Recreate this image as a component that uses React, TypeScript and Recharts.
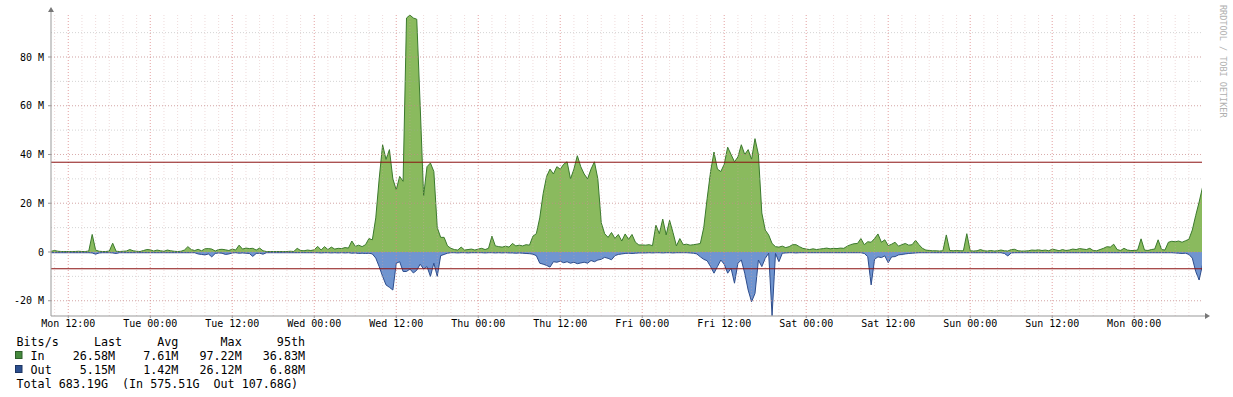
import React from "react";
import { ComposedChart, Area, XAxis, YAxis, ReferenceLine } from "recharts";

// traffic in Mbit/s, one value every 30 minutes
// hours are counted from Mon 00:00 of the first week
const blockStarts = [9.5, 24, 48, 72, 96, 120, 144, 168];

const monIn1 = [0.3, 0.6, 0.3, 0.2, 0.2, 0.2, 0.2, 0.2, 0.3, 0.2, 0.2, 0.4, 7.2, 0.8, 0.3, 0.2, 0.2, 0.4, 3.6, 0.3, 0.2, 0.3, 0.4, 1.0, 0.5, 0.3, 0.2, 0.6, 1.0];
const tueIn = [
  0.9, 0.4, 0.8, 0.5, 0.3, 0.8, 0.5, 0.3, 0.2, 0.3, 0.8, 2.2, 1.0, 0.6, 1.1, 0.5,
  1.3, 1.4, 1.2, 0.4, 1.0, 1.1, 0.9, 0.6, 1.2, 0.8, 2.8, 1.2, 1.6, 1.4, 1.5, 0.8,
  1.6, 0.5, 0.2, 0.2, 0.2, 0.2, 0.2, 0.2, 0.2, 0.3, 0.2, 1.5, 0.6, 0.5, 0.8, 0.6,
];
const wedIn = [
  0.9, 2.3, 0.8, 2.2, 1.0, 2.0, 1.2, 1.5, 1.4, 1.8, 1.6, 4.5, 2.3, 2.8, 2.2, 3.0,
  5.5, 5.0, 14, 30, 44, 38, 42, 30, 25.5, 31, 29, 96, 97.2, 96, 95.5, 60,
  23, 35, 36.5, 33, 10, 6, 6, 2.5, 1.5, 1.0, 0.8, 2.0, 0.8, 1.0, 1.2, 0.8,
];
const thuIn = [
  1.2, 1.5, 1.0, 1.5, 6.5, 2.5, 2.2, 2.0, 2.4, 2.0, 3.5, 2.5, 2.8, 2.5, 3.0, 2.8,
  6.5, 7.5, 14, 24, 31, 34, 32, 35, 34, 36, 37, 30, 34, 39.5, 35, 32,
  30, 34, 37, 30, 12, 7.5, 6, 8, 5.6, 7.2, 4.5, 7.4, 5.2, 7.2, 4, 2.9,
];
const friIn = [
  2.9, 2.8, 3.0, 2.6, 11, 7.5, 13.5, 7, 13, 8, 2.5, 5.5, 3, 3.2, 2.8, 3.0,
  3.2, 3.5, 10, 22, 33, 41, 34, 33, 36, 43, 40, 37, 39, 44, 40, 42,
  38, 46.5, 40, 16, 9, 7, 3.5, 2.2, 2, 2.4, 1.8, 2.2, 3, 3, 2.2, 1.5,
];
const satIn = [
  1.2, 1.0, 1.3, 1.0, 1.2, 1.4, 1.6, 1.3, 1.5, 1.4, 1.6, 1.5, 2.4, 3.0, 3.4, 3.5,
  5.5, 3.0, 4.2, 4.0, 5.5, 7.4, 4.0, 5.0, 2.6, 3.2, 4.0, 2.4, 3.0, 3.5, 2.8, 3.0,
  4.8, 3.0, 1.5, 0.8, 0.6, 0.5, 0.5, 0.4, 0.5, 7.0, 0.6, 0.5, 0.6, 0.5, 0.5, 7.5,
];
const sunIn = [
  0.5, 0.4, 0.5, 1.0, 0.5, 0.4, 0.6, 0.4, 0.5, 0.8, 0.5, 0.4, 1.0, 1.1, 0.5, 0.4,
  0.4, 0.5, 0.8, 0.7, 0.9, 0.6, 0.8, 0.5, 1.2, 0.9, 0.5, 1.0, 0.6, 0.8, 1.2, 1.0,
  1.4, 1.2, 1.0, 1.5, 0.6, 0.5, 1.0, 1.5, 2.2, 2.0, 3.2, 1.0, 0.6, 1.5, 0.8, 0.6,
];
const monIn2 = [0.6, 0.8, 5.4, 0.8, 0.6, 1.0, 1.2, 5.0, 1.0, 0.8, 4.0, 4.4, 4.2, 4.5, 4.0, 4.6, 5.2, 9, 15, 20.5, 26.6];

const monOut1 = [0.3, 0.3, 0.3, 0.3, 0.3, 0.3, 0.3, 0.3, 0.3, 0.3, 0.3, 0.3, 0.4, 0.9, 0.4, 0.3, 0.3, 0.3, 0.4, 0.6, 0.3, 0.3, 0.3, 0.3, 0.3, 0.3, 0.3, 0.3, 0.3];
const tueOut = [
  0.3, 0.3, 0.3, 0.3, 0.3, 0.3, 0.3, 0.3, 0.3, 0.3, 0.3, 0.3, 0.3, 0.3, 0.8, 1.0,
  1.2, 0.8, 2.0, 0.6, 0.4, 0.5, 1.0, 0.8, 0.4, 0.3, 0.5, 0.4, 0.5, 0.6, 1.8, 0.6,
  0.5, 0.9, 0.3, 0.3, 0.3, 0.3, 0.3, 0.3, 0.3, 0.3, 0.3, 0.3, 0.3, 0.3, 0.3, 0.3,
];
const wedOut = [
  0.3, 0.3, 0.4, 0.3, 0.3, 0.4, 0.3, 0.4, 0.3, 0.4, 0.3, 0.5, 0.4, 0.6, 0.5, 0.6,
  0.5, 0.8, 2.5, 6, 10, 13.5, 14.5, 15.6, 4.6, 4, 8, 8, 7, 8.6, 7.5, 5,
  7, 6, 10, 4.6, 10, 1.5, 1.0, 0.5, 0.3, 0.3, 0.4, 0.3, 0.3, 0.4, 0.3, 0.3,
];
const thuOut = [
  0.3, 0.3, 0.4, 0.3, 0.3, 0.4, 0.3, 0.4, 0.3, 0.4, 0.4, 0.5, 0.4, 0.5, 0.6, 0.7,
  0.9, 1.5, 4.6, 5, 5.5, 6.2, 4, 4.2, 3.8, 4.4, 4.0, 4.6, 4.2, 4.8, 4.5, 4.2,
  4.6, 3.5, 4.0, 3.3, 3.0, 2.2, 2.6, 3.2, 1.5, 1.0, 0.8, 0.6, 0.5, 0.6, 0.5, 0.4,
];
const friOut = [
  0.4, 0.4, 0.3, 0.4, 0.3, 0.3, 0.4, 0.3, 0.3, 0.4, 0.3, 0.3, 0.3, 0.3, 0.4, 0.5,
  0.8, 2.0, 3.0, 3.6, 6, 8.7, 6, 3.3, 5, 8.7, 6.7, 12.8, 4.6, 3.3, 8.7, 15.6,
  20.4, 17, 3.3, 6, 2.6, 0.5, 26.1, 0.6, 4, 0.5, 0.4, 0.3, 0.3, 0.4, 0.3, 0.3,
];
const satOut = [
  0.3, 0.3, 0.3, 0.3, 0.3, 0.3, 0.3, 0.3, 0.3, 0.3, 0.3, 0.3, 0.3, 0.3, 0.3, 0.3,
  0.3, 0.6, 1.9, 13.5, 3, 2, 2.3, 1.6, 4.4, 2, 1.9, 1.2, 1.0, 0.8, 0.6, 0.5,
  0.4, 0.3, 0.3, 0.3, 0.3, 0.3, 0.3, 0.3, 0.3, 0.3, 0.3, 0.3, 0.3, 0.3, 0.3, 0.3,
];
const sunOut = [
  0.3, 0.3, 0.3, 0.3, 0.3, 0.3, 0.3, 0.3, 0.3, 0.3, 0.6, 1.6, 0.4, 0.3, 0.3, 0.3,
  0.3, 0.3, 0.3, 0.3, 0.3, 0.3, 0.3, 0.3, 0.3, 0.3, 0.3, 0.3, 0.3, 0.3, 0.3, 0.3,
  0.3, 0.3, 0.3, 0.3, 0.3, 0.3, 0.3, 0.3, 0.3, 0.3, 0.3, 0.3, 0.3, 0.3, 0.3, 0.3,
];
const monOut2 = [0.3, 0.3, 0.3, 0.3, 0.3, 0.3, 0.3, 0.3, 0.3, 0.3, 0.3, 0.3, 0.4, 0.5, 0.6, 0.5, 1.0, 2.5, 8, 11.5, 5.15];

const inBlocks = [monIn1, tueIn, wedIn, thuIn, friIn, satIn, sunIn, monIn2];
const outBlocks = [monOut1, tueOut, wedOut, thuOut, friOut, satOut, sunOut, monOut2];

const p95In = 36.83;
const p95Out = 6.88;

const xTicks = [12, 24, 36, 48, 60, 72, 84, 96, 108, 120, 132, 144, 156, 168];
const xLabels = [
  "Mon 12:00", "Tue 00:00", "Tue 12:00", "Wed 00:00", "Wed 12:00", "Thu 00:00", "Thu 12:00",
  "Fri 00:00", "Fri 12:00", "Sat 00:00", "Sat 12:00", "Sun 00:00", "Sun 12:00", "Mon 00:00",
];
const yTicks = [-20, 0, 20, 40, 60, 80];
const yMinor = [-20, -10, 0, 10, 20, 30, 40, 50, 60, 70, 80, 90];

const legendRows = [
  "Bits/s     Last     Avg      Max     95th",
  "  In    26.58M    7.61M   97.22M   36.83M",
  "  Out    5.15M    1.42M   26.12M    6.88M",
  "Total 683.19G  (In 575.51G  Out 107.68G)",
];

// out is drawn below the zero line
const data = blockStarts.flatMap((start, b) =>
  inBlocks[b].map((v, i) => ({ h: start + i * 0.5, in: v, out: -outBlocks[b][i] }))
);

const xMinor: number[] = [];
for (let h = 10; h <= 176; h += 2) xMinor.push(h);

const mono = "DejaVu Sans Mono";
const tickStyle = { fontSize: 10, fill: "#000", fontFamily: mono };

const fmtY = (v: number) => (v === 0 ? "0" : `${v} M`);
const fmtX = (v: number) => xLabels[xTicks.indexOf(v)] ?? "";

export default function App() {
  return (
    <div style={{ position: "absolute", left: 0, top: 0, width: 1233, height: 397, background: "#fff" }}>
      <ComposedChart
        width={1233}
        height={397}
        data={data}
        margin={{ top: 13, right: 31, bottom: 61, left: 0 }}
      >
        <XAxis
          dataKey="h"
          type="number"
          domain={[9.47, 177.92]}
          allowDataOverflow
          ticks={xTicks}
          interval={0}
          tickFormatter={fmtX}
          height={20}
          tickSize={2}
          tickMargin={2}
          tick={tickStyle}
          axisLine={{ stroke: "#999" }}
          tickLine={{ stroke: "#999" }}
        />
        <YAxis
          type="number"
          domain={[-26.26, 98.05]}
          allowDataOverflow
          ticks={yTicks}
          interval={0}
          tickFormatter={fmtY}
          width={51}
          tickSize={3}
          tickMargin={4}
          tick={tickStyle}
          axisLine={{ stroke: "#999" }}
          tickLine={{ stroke: "#999" }}
        />
        <Area
          type="linear"
          dataKey="in"
          baseValue={0}
          fill="#8aba5e"
          fillOpacity={1}
          stroke="#3b7a2d"
          strokeWidth={1}
          isAnimationActive={false}
          dot={false}
          activeDot={false}
        />
        <Area
          type="linear"
          dataKey="out"
          baseValue={0}
          fill="#7095d0"
          fillOpacity={1}
          stroke="#2d4c8c"
          strokeWidth={1}
          isAnimationActive={false}
          dot={false}
          activeDot={false}
        />
        {xMinor.map((h) => (
          <ReferenceLine key={`xm${h}`} x={h} stroke="rgba(215,165,165,0.4)" strokeDasharray="1 2" />
        ))}
        {xTicks.map((h) => (
          <ReferenceLine key={`xM${h}`} x={h} stroke="rgba(225,120,120,0.5)" strokeDasharray="1 2" />
        ))}
        {yMinor.map((v) => (
          <ReferenceLine key={`ym${v}`} y={v} stroke="rgba(160,160,160,0.45)" strokeDasharray="1 2" />
        ))}
        {yTicks.map((v) => (
          <ReferenceLine key={`yM${v}`} y={v} stroke="rgba(225,125,125,0.45)" strokeDasharray="1 2" />
        ))}
        <ReferenceLine y={p95In} stroke="#8b1010" strokeWidth={1} />
        <ReferenceLine y={-p95Out} stroke="#8b1010" strokeWidth={1} />
      </ComposedChart>

      <svg
        width={1233}
        height={397}
        style={{ position: "absolute", left: 0, top: 0, pointerEvents: "none" }}
      >
        {/* axis arrows */}
        <line x1={51} y1={13} x2={51} y2={10} stroke="#999" />
        <polygon points="48,12 54,12 51,7" fill="#777" />
        <line x1={1202} y1={316} x2={1206} y2={316} stroke="#999" />
        <polygon points="1205,313 1205,319 1210,316" fill="#777" />

        <text
          transform="translate(1220,5) rotate(90)"
          fontFamily={mono}
          fontSize={8.5}
          fill="#b0b0b0"
        >
          RRDTOOL / TOBI OETIKER
        </text>

        <rect x={15.5} y={351.5} width={6.5} height={7} fill="#468a3e" stroke="#2e5e2a" />
        <rect x={15.5} y={365.5} width={6.5} height={7} fill="#2c4f8e" stroke="#1d3563" />
        {legendRows.map((row, i) => (
          <text
            key={i}
            x={16.5}
            y={346 + i * 14}
            fontFamily={mono}
            fontSize={11.7}
            fill="#000"
            style={{ whiteSpace: "pre" }}
          >
            {row}
          </text>
        ))}
      </svg>
    </div>
  );
}
